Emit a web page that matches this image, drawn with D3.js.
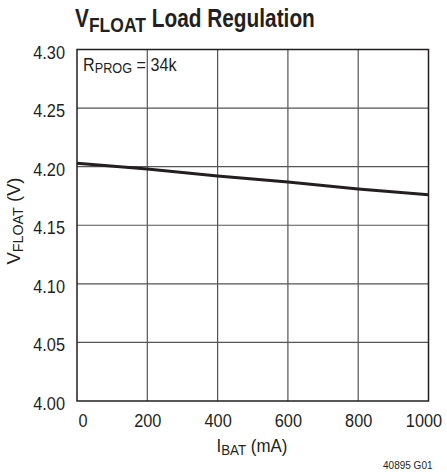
<!DOCTYPE html>
<html><head><meta charset="utf-8">
<script src="https://cdn.jsdelivr.net/npm/d3@7"></script>
<style>
body{margin:0;background:#fff;}
svg{display:block;}
text{font-family:"Liberation Sans",Arial,sans-serif;fill:#231f20;}
</style></head><body>
<script>
const ibat = [0, 200, 400, 600, 800, 1000];
const vfloat = [4.203, 4.198, 4.192, 4.187, 4.181, 4.176];
const xTicks = [0, 200, 400, 600, 800, 1000];
const yTicks = [4.00, 4.05, 4.10, 4.15, 4.20, 4.25, 4.30];

const W = 447, H = 472;
const m = {left: 77, right: 428.5, top: 49.5, bottom: 401};
const svg = d3.select("body").append("svg").attr("width", W).attr("height", H);
const x = d3.scaleLinear().domain([0, 1000]).range([m.left, m.right]);
const y = d3.scaleLinear().domain([4.00, 4.30]).range([m.bottom, m.top]);
const SX = 0.86;

// fit a text horizontally to a target width, anchored at ax
function fit(sel, target, ax) {
  const w = sel.node().getBBox().width;
  const s = target / w;
  sel.attr("transform", `translate(${ax},0) scale(${s},1) translate(${-ax},0)`);
}

// grid
const g = svg.append("g");
g.selectAll("line.v").data(xTicks.slice(1, -1)).join("line")
  .attr("x1", d => x(d)).attr("x2", d => x(d)).attr("y1", m.top).attr("y2", m.bottom)
  .attr("stroke", "#555").attr("stroke-width", 1.2);
g.selectAll("line.h").data(yTicks.slice(1, -1)).join("line")
  .attr("y1", d => y(d)).attr("y2", d => y(d)).attr("x1", m.left).attr("x2", m.right)
  .attr("stroke", "#555").attr("stroke-width", 1.2);
svg.append("rect").attr("x", m.left).attr("y", m.top)
  .attr("width", m.right - m.left).attr("height", m.bottom - m.top)
  .attr("fill", "none").attr("stroke", "#231f20").attr("stroke-width", 1.5);

// x axis labels
const xAxis = d3.axisBottom(x).tickValues(xTicks).tickSize(0).tickPadding(0).tickFormat(d3.format("d"));
const ax = svg.append("g").attr("transform", `translate(0,${m.bottom})`).call(xAxis);
ax.select(".domain").remove();
ax.selectAll("text").attr("font-size", 19).attr("fill", "#231f20").attr("font-family", null)
  .attr("y", 25.7).attr("dy", null)
  .attr("x", d => (d === 0 ? 5.5 : d === 1000 ? -5 : 0) / SX)
  .attr("transform", `scale(${SX},1)`);

// y axis labels
const yAxis = d3.axisLeft(y).tickValues(yTicks).tickSize(0).tickPadding(0).tickFormat(d3.format(".2f"));
const ay = svg.append("g").attr("transform", `translate(${m.left},0)`).call(yAxis);
ay.select(".domain").remove();
ay.selectAll("text").attr("font-size", 19).attr("fill", "#231f20").attr("font-family", null)
  .attr("dy", null).attr("y", 8.5).attr("x", -12 / SX)
  .attr("transform", `scale(${SX},1)`);

// data line
svg.append("path").datum(ibat.map((d, i) => [d, vfloat[i]]))
  .attr("d", d3.line().x(d => x(d[0])).y(d => y(d[1])))
  .attr("fill", "none").attr("stroke", "#231f20").attr("stroke-width", 3);

// title
const t = svg.append("text").attr("x", 75).attr("y", 27.3).attr("font-size", 25).attr("font-weight", "bold");
t.append("tspan").text("V");
t.append("tspan").attr("font-size", 21).attr("dy", 4.5).text("FLOAT");
t.append("tspan").attr("dy", -4.5).text(" Load Regulation");
fit(t, 240, 75);

// annotation
const a = svg.append("text").attr("x", 83).attr("y", 70.7).attr("font-size", 19);
a.append("tspan").text("R");
a.append("tspan").attr("font-size", 15).attr("dy", 2).text("PROG");
a.append("tspan").attr("dy", -2).text(" = 34k");
fit(a, 94, 83);

// x title
const xt = svg.append("text").attr("x", 252).attr("y", 452).attr("text-anchor", "middle").attr("font-size", 19);
xt.append("tspan").text("I");
xt.append("tspan").attr("font-size", 15).attr("dy", 3).text("BAT");
xt.append("tspan").attr("dy", -3).text(" (mA)");
fit(xt, 71, 252);

// y title
const ytg = svg.append("g").attr("transform", "translate(20,221) rotate(-90)");
const yt = ytg.append("text").attr("x", 0).attr("y", 0).attr("text-anchor", "middle").attr("font-size", 18);
yt.append("tspan").text("V");
yt.append("tspan").attr("font-size", 14).attr("dy", 3).text("FLOAT");
yt.append("tspan").attr("dy", -3).text(" (V)");
fit(yt, 87, 0);

const code = svg.append("text").attr("x", 383).attr("y", 469).attr("font-size", 10).text("40895 G01");
fit(code, 50, 383);
</script>
</body></html>
